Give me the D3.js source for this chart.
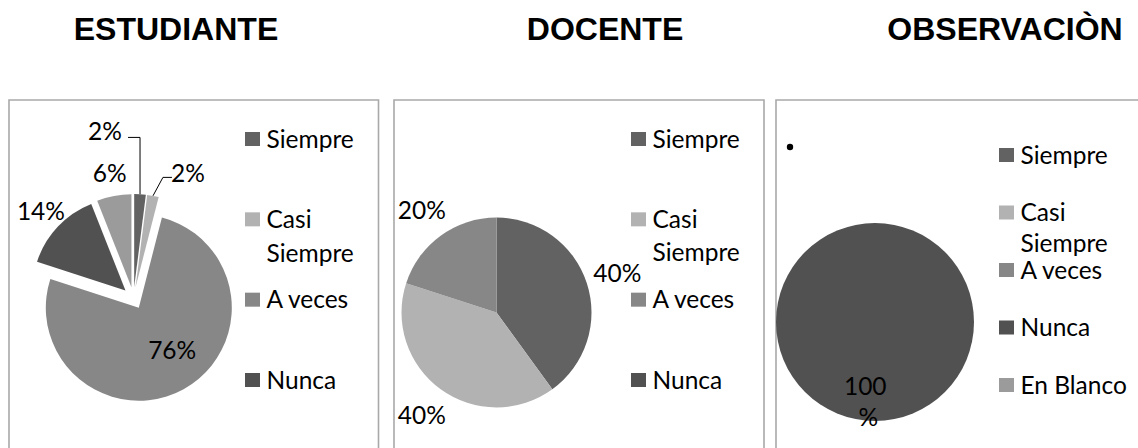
<!DOCTYPE html>
<html>
<head>
<meta charset="utf-8">
<script src="https://cdn.jsdelivr.net/npm/d3@7"></script>
<style>
  body { margin: 0; background: #fff; }
  text { font-family: Lato, "Noto Sans", sans-serif; fill: #000; }
  .title { font-family: "Liberation Sans", Arial, sans-serif; font-weight: bold; font-size: 32px; }
</style>
</head>
<body>
<svg id="chart" width="1138" height="448"></svg>
<script>
const categories = ["Siempre", "Casi Siempre", "A veces", "Nunca", "En Blanco"];
const colors = ["#626262", "#b2b2b2", "#878787", "#515151", "#9b9b9b"];
const titles = ["ESTUDIANTE", "DOCENTE", "OBSERVACIÒN"];
const estudiante = [2, 2, 76, 14, 6];
const docente = [40, 40, 20, 0, 0];
const observacion = [0, 0, 0, 100, 0];

const svg = d3.select("#chart");
const deg = Math.PI / 180;
const fontSize = "24.5px";

// layout of the three panels
const panels = [
  {
    title: titles[0], values: estudiante, titleX: 176,
    x0: 9, x1: 378.5, cx: 133.5, cy: 298, r: 93, explode: 11,
    labelDist: 127,
    labelFix: {
      0: { angle: 350.3, dist: 169, leader: { edge: 23, dy: 6, vertical: true } },
      1: { angle: 23.6, dist: 136, leader: { edge: -16, elbow: -25, dy: 4 } },
      2: { angle: 143.5, dist: 65 }
    },
    legendX: 245, legendItems: 4, legendRange: [139, 380], wrapGap: 34
  },
  {
    title: titles[1], values: docente, titleX: 605,
    x0: 394, x1: 764, cx: 496.5, cy: 312.5, r: 95, explode: 0,
    labelDist: 127,
    labelFix: {},
    legendX: 631, legendItems: 4, legendRange: [139, 380], wrapGap: 33
  },
  {
    title: titles[2], values: observacion, titleX: 1005,
    x0: 776, x1: 1160, cx: 875, cy: 322, r: 99, explode: 0,
    labelDist: 80,
    labelFix: { 3: { angle: 187, dist: 80, wrap: true } },
    legendX: 999, legendItems: 5, legendRange: [155, 385], wrapGap: 31,
    bullet: [790, 147]
  }
];

const pie = d3.pie().sort(null).value(d => d.value);
const fmt = d => d + "%";

panels.forEach(p => {
  svg.append("text")
    .attr("class", "title")
    .attr("x", p.titleX)
    .attr("y", 40)
    .attr("text-anchor", "middle")
    .text(p.title);

  // frame, open at the bottom
  svg.append("path")
    .attr("d", `M${p.x0},460V100H${p.x1}V460`)
    .attr("fill", "none")
    .attr("stroke", "#a9a9a9")
    .attr("stroke-width", 1.6);

  const g = svg.append("g").attr("transform", `translate(${p.cx},${p.cy})`);
  const data = p.values.map((v, i) => ({ value: v, i: i }));
  const arcs = pie(data).filter(d => d.value > 0);
  const arc = d3.arc().innerRadius(0).outerRadius(p.r);

  const shift = d => {
    const m = (d.startAngle + d.endAngle) / 2;
    return [Math.sin(m) * p.explode, -Math.cos(m) * p.explode];
  };

  g.selectAll("path.slice")
    .data(arcs)
    .enter().append("path")
    .attr("class", "slice")
    .attr("d", arc)
    .attr("fill", d => colors[d.data.i])
    .attr("transform", d => "translate(" + shift(d) + ")");

  // percentage labels
  arcs.forEach(d => {
    const fix = p.labelFix[d.data.i] || {};
    const mid = (d.startAngle + d.endAngle) / 2;
    const a = fix.angle !== undefined ? fix.angle * deg : mid;
    const dist = fix.dist || p.labelDist;
    const lx = Math.sin(a) * dist, ly = -Math.cos(a) * dist;

    if (fix.wrap) {
      const t = g.append("text")
        .attr("text-anchor", "middle")
        .style("font-size", fontSize);
      t.append("tspan").attr("x", lx).attr("y", ly - 15.5).attr("dy", "0.36em").text(d.value);
      t.append("tspan").attr("x", lx + 3).attr("y", ly + 15.5).attr("dy", "0.36em").text("%");
    } else {
      g.append("text")
        .attr("x", lx)
        .attr("y", ly)
        .attr("dy", "0.36em")
        .attr("text-anchor", "middle")
        .style("font-size", fontSize)
        .text(fmt(d.value));
    }

    if (fix.leader) {
      const s = shift(d);
      const tip = [s[0] + Math.sin(mid) * p.r, s[1] - Math.cos(mid) * p.r];
      const L = fix.leader;
      const hy = ly + L.dy;
      const elbowX = L.vertical ? tip[0] : lx + L.elbow;
      g.append("path")
        .attr("d", d3.line()([[lx + L.edge, hy], [elbowX, hy], tip]))
        .attr("fill", "none")
        .attr("stroke", "#000")
        .attr("stroke-width", 1);
    }
  });

  // legend
  const items = categories.slice(0, p.legendItems);
  const ly = d3.scalePoint().domain(items).range(p.legendRange);
  const leg = svg.append("g");
  items.forEach((c, i) => {
    const y = ly(c);
    leg.append("rect")
      .attr("x", p.legendX)
      .attr("y", y - 7)
      .attr("width", 15)
      .attr("height", 14)
      .attr("fill", colors[i]);
    const words = c === "Casi Siempre" ? ["Casi", "Siempre"] : [c];
    words.forEach((w, k) => {
      leg.append("text")
        .attr("x", p.legendX + 21.5)
        .attr("y", y + k * p.wrapGap)
        .attr("dy", "0.36em")
        .style("font-size", fontSize)
        .text(w);
    });
  });

  if (p.bullet) {
    svg.append("circle")
      .attr("cx", p.bullet[0])
      .attr("cy", p.bullet[1])
      .attr("r", 3.2)
      .attr("fill", "#000");
  }
});
</script>
</body>
</html>
